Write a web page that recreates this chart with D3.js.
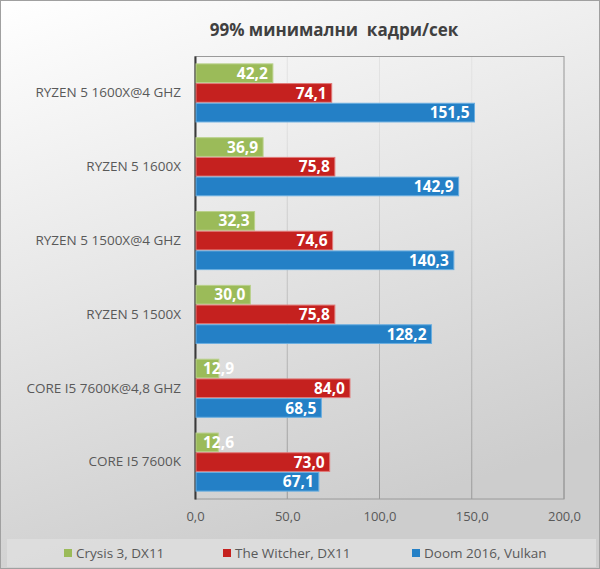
<!DOCTYPE html>
<html>
<head>
<meta charset="utf-8">
<script src="https://cdn.jsdelivr.net/npm/d3@7"></script>
<style>
  body { margin: 0; background: #fff; }
  text { font-family: "Open Sans", sans-serif; }
</style>
</head>
<body>
<div id="chart"></div>
<script>
// data
var categories = ["RYZEN 5 1600X@4 GHZ", "RYZEN 5 1600X", "RYZEN 5 1500X@4 GHZ",
                  "RYZEN 5 1500X", "CORE I5 7600K@4,8 GHZ", "CORE I5 7600K"];
var seriesNames = ["Crysis 3, DX11", "The Witcher, DX11", "Doom 2016, Vulkan"];
var crysis = [42.2, 36.9, 32.3, 30.0, 12.9, 12.6];
var witcher = [74.1, 75.8, 74.6, 75.8, 84.0, 73.0];
var doom = [151.5, 142.9, 140.3, 128.2, 68.5, 67.1];
var xTicks = [0, 50, 100, 150, 200];
var colors = ["#9bbb59", "#c5211f", "#2480c6"];
var edges = ["#b9d08a", "#e07a79", "#6aaee0"];

var svgWidth = 600, svgHeight = 569;
var margin = { top: 56, right: 36, bottom: 70, left: 195 },
    width = 564 - margin.left,
    height = 499 - margin.top;

var svg = d3.select("#chart").append("svg")
    .attr("width", svgWidth)
    .attr("height", svgHeight);

// background gradient
var defs = svg.append("defs");
var bg = defs.append("linearGradient").attr("id", "bg")
    .attr("x1", "0").attr("y1", "0").attr("x2", "0.35").attr("y2", "1");
bg.append("stop").attr("offset", "0%").attr("stop-color", "#ffffff");
bg.append("stop").attr("offset", "100%").attr("stop-color", "#cdcdcd");

var grid = defs.append("linearGradient").attr("id", "grid")
    .attr("gradientUnits", "userSpaceOnUse")
    .attr("x1", 0).attr("y1", margin.top).attr("x2", 0).attr("y2", margin.top + height);
grid.append("stop").attr("offset", "0%").attr("stop-color", "#e2e2e2");
grid.append("stop").attr("offset", "100%").attr("stop-color", "#8e8e8e");

svg.append("rect")
    .attr("x", 0.5).attr("y", 0.5)
    .attr("width", svgWidth - 1).attr("height", svgHeight - 1)
    .attr("fill", "url(#bg)")
    .attr("stroke", "#a0a0a0");

// title
svg.append("text")
    .attr("x", 334).attr("y", 36)
    .attr("text-anchor", "middle")
    .attr("font-size", 17).attr("font-weight", "bold")
    .attr("fill", "#404040")
    .style("white-space", "pre")
    .text("99% минимални  кадри/сек");

var chartGroup = svg.append("g")
    .attr("transform", `translate(${margin.left}, ${margin.top})`);

var x = d3.scaleLinear().domain([0, 200]).range([0, width]);
var y0 = d3.scaleBand().domain(categories).range([0, height]).paddingInner(0.2).paddingOuter(0.1);
var y1 = d3.scaleBand().domain(seriesNames).range([0, y0.bandwidth()]);

// gridlines
chartGroup.append("g")
    .selectAll("line")
    .data(xTicks.slice(1))
    .enter().append("line")
    .attr("x1", d => x(d)).attr("x2", d => x(d))
    .attr("y1", 0).attr("y2", height)
    .attr("stroke", "url(#grid)");

chartGroup.append("rect")
    .attr("x", 0).attr("y", 0.5)
    .attr("width", width).attr("height", height - 0.5)
    .attr("fill", "none")
    .attr("stroke", "#9a9a9a");

// x axis
var xAxis = chartGroup.append("g")
    .attr("transform", `translate(0, ${height})`)
    .call(d3.axisBottom(x).tickValues(xTicks).tickSize(0).tickPadding(13)
        .tickFormat(d => d3.format(".1f")(d).replace(".", ",")));
xAxis.select(".domain").remove();
xAxis.selectAll("text").attr("font-size", 13).attr("fill", "#595959")
    .style("font-family", "'Open Sans', sans-serif");

// y axis
var yAxis = chartGroup.append("g")
    .call(d3.axisLeft(y0).tickSize(0).tickPadding(14));
yAxis.select(".domain").attr("stroke", "#3a3a3a").attr("stroke-width", 2);
yAxis.selectAll("text").attr("font-size", 13.5).attr("fill", "#595959")
    .attr("textLength", null)
    .style("font-family", "'Open Sans', sans-serif");

// bars
var seriesData = [crysis, witcher, doom];
var rows = [];
categories.forEach(function (c, i) {
    seriesData.forEach(function (s, j) {
        rows.push({ cat: c, series: seriesNames[j], idx: j, value: s[i] });
    });
});

var bars = chartGroup.append("g").selectAll("g")
    .data(rows)
    .enter().append("g")
    .attr("transform", d => `translate(0, ${y0(d.cat) + y1(d.series)})`);

bars.append("rect")
    .attr("x", 1)
    .attr("y", 0.5)
    .attr("width", d => x(d.value) - 1)
    .attr("height", y1.bandwidth() - 1)
    .attr("fill", d => colors[d.idx])
    .attr("stroke", d => edges[d.idx])
    .attr("stroke-width", 1);

bars.append("text")
    .attr("y", y1.bandwidth() / 2)
    .attr("dy", "0.36em")
    .attr("font-size", 15.5).attr("font-weight", "bold")
    .attr("fill", "#ffffff")
    .text(d => d3.format(".1f")(d.value).replace(".", ","))
    .each(function (d) {
        var w = this.getComputedTextLength();
        var end = x(d.value) - 5;
        if (end - w < 6) {
            d3.select(this).attr("x", 8).attr("text-anchor", "start");
        } else {
            d3.select(this).attr("x", end).attr("text-anchor", "end");
        }
    });

// legend
svg.append("rect")
    .attr("x", 7).attr("y", 539)
    .attr("width", 589).attr("height", 28)
    .attr("fill", "#dedede").attr("opacity", 0.85);

var legendX = [64, 223, 412];
var legend = svg.append("g").selectAll("g")
    .data(seriesNames)
    .enter().append("g")
    .attr("transform", (d, i) => `translate(${legendX[i]}, 549)`);
legend.append("rect")
    .attr("width", 8).attr("height", 8)
    .attr("fill", (d, i) => colors[i]);
legend.append("text")
    .attr("x", 12).attr("y", 4).attr("dy", "0.36em")
    .attr("font-size", 13.5).attr("fill", "#595959")
    .text(d => d);
</script>
</body>
</html>
